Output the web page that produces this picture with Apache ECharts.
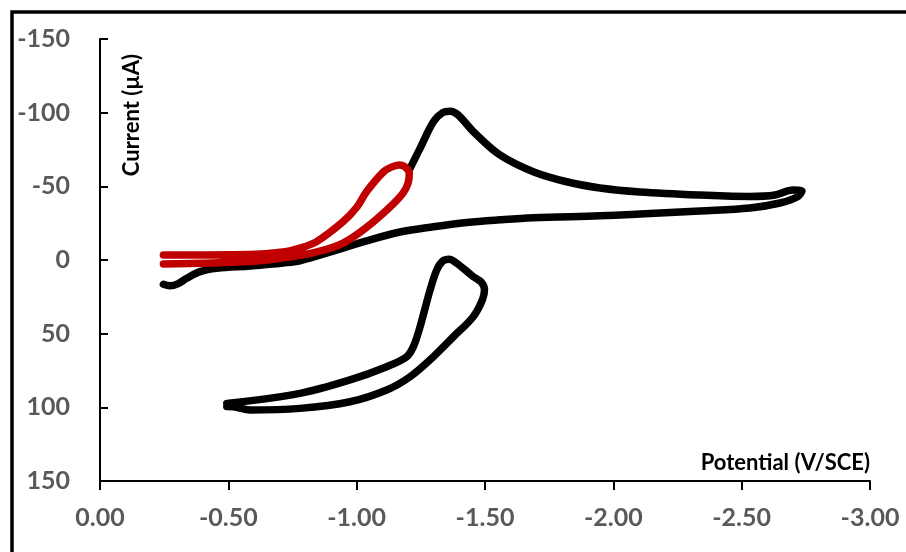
<!DOCTYPE html>
<html>
<head>
<meta charset="utf-8">
<script src="https://cdn.jsdelivr.net/npm/echarts@6/dist/echarts.min.js"></script>
<style>
  html, body { margin: 0; padding: 0; background: #fff; }
  #main { width: 906px; height: 552px; }
</style>
</head>
<body>
<div id="main"></div>
<script>
// potential (V/SCE) and current (µA)
const mainV = [-0.247, -0.272, -0.305, -0.338, -0.390, -0.455, -0.584, -0.714, -0.779, -0.909, -1.039, -1.169, -1.299, -1.429, -1.558, -1.688, -1.948, -2.104, -2.338, -2.532, -2.649, -2.716, -2.735,
  -2.700, -2.630, -2.532, -2.338, -2.104, -1.948, -1.818, -1.688, -1.558, -1.455, -1.395, -1.365, -1.335, -1.299, -1.247, -1.208];
const mainI = [16.5, 17.5, 16.0, 12.4, 7.9, 5.6, 4.0, 2.0, 0.5, -6.0, -13.0, -19.0, -22.6, -25.5, -27.3, -28.7, -30.0, -31.2, -33.3, -35.3, -38.7, -42.8, -46.8,
  -47.5, -44.1, -43.1, -44.1, -46.2, -48.9, -53.1, -59.9, -71.3, -87.1, -98.5, -101.0, -100.0, -93.9, -75.8, -62.2];

const loopV = [-0.494, -0.779, -0.974, -1.117, -1.195, -1.221, -1.247, -1.286, -1.312, -1.335, -1.360, -1.390, -1.454, -1.485, -1.498, -1.490, -1.454, -1.377, -1.299, -1.208, -1.117, -0.974, -0.779, -0.584, -0.519, -0.494];
const loopI = [97.3, 90.5, 81.4, 72.4, 65.6, 58.8, 45.3, 20.4, 6.8, 0.8, -0.5, 2.2, 11.3, 15.0, 20.0, 27.0, 38.5, 52.1, 65.6, 79.2, 88.2, 96.2, 100.7, 101.8, 99.6, 99.5];

const redV = [-0.247, -0.584, -0.713, -0.779, -0.844, -0.947, -1.001, -1.039, -1.104, -1.135, -1.165, -1.190, -1.205, -1.200, -1.181, -1.130, -1.040, -0.947, -0.845, -0.713, -0.584, -0.247];
const redI = [-3.4, -3.7, -5.4, -8.1, -12.5, -26.0, -36.0, -46.5, -59.7, -63.0, -64.5, -63.0, -58.5, -52.0, -45.5, -36.0, -22.4, -11.5, -5.5, -1.4, 1.0, 2.7];

const xTicks = [0, -0.5, -1, -1.5, -2, -2.5, -3];
const yTicks = [-150, -100, -50, 0, 50, 100, 150];

function pairs(xs, ys) {
  return xs.map((v, i) => [v, ys[i]]);
}

const grey = "#595959";
const tickFont = { color: grey, fontSize: 25, fontWeight: "bold", fontFamily: "Lato" };

const chart = echarts.init(document.getElementById("main"));
const option = {
  animation: false,
  grid: { left: 100, right: 36, top: 39, bottom: 71 },
  xAxis: {
    type: "value",
    inverse: true,
    min: xTicks[xTicks.length - 1],
    max: xTicks[0],
    interval: 0.5,
    axisLine: { onZero: false, lineStyle: { color: "#000", width: 2 } },
    axisTick: { length: 9, lineStyle: { color: "#000", width: 2 } },
    splitLine: { show: false },
    axisLabel: Object.assign({ margin: 24, formatter: (v) => v.toFixed(2) }, tickFont),
  },
  yAxis: {
    type: "value",
    inverse: true,
    min: yTicks[0],
    max: yTicks[yTicks.length - 1],
    interval: 50,
    axisLine: { show: true, onZero: false, lineStyle: { color: "#000", width: 2 } },
    axisTick: { show: true, inside: true, length: 8, lineStyle: { color: "#000", width: 2 } },
    splitLine: { show: false },
    axisLabel: Object.assign({ margin: 30 }, tickFont),
  },
  graphic: [
    {
      type: "rect",
      shape: { x: 12, y: 12, width: 1000, height: 1000 },
      style: { fill: "none", stroke: "#000", lineWidth: 3.5 },
    },
    {
      type: "text",
      x: 132,
      y: 115,
      rotation: Math.PI / 2,
      style: {
        text: "Current (µA)",
        font: "bold 22px Lato",
        fill: "#000",
        textAlign: "center",
        textVerticalAlign: "middle",
      },
    },
    {
      type: "text",
      x: 870,
      y: 463,
      style: {
        text: "Potential (V/SCE)",
        font: "bold 22px Lato",
        fill: "#000",
        textAlign: "right",
        textVerticalAlign: "middle",
      },
    },
  ],
  series: [
    {
      type: "line",
      data: pairs(mainV, mainI),
      smooth: 0.35,
      symbol: "none",
      lineStyle: { color: "#000", width: 7.5, cap: "round", join: "round" },
    },
    {
      type: "line",
      data: pairs(loopV, loopI),
      smooth: 0.35,
      symbol: "none",
      lineStyle: { color: "#000", width: 7.5, cap: "round", join: "round" },
    },
    {
      type: "line",
      data: pairs(redV, redI),
      smooth: 0.35,
      symbol: "none",
      lineStyle: { color: "#C00000", width: 7.5, cap: "round", join: "round" },
    },
  ],
};
chart.setOption(option);
</script>
</body>
</html>
